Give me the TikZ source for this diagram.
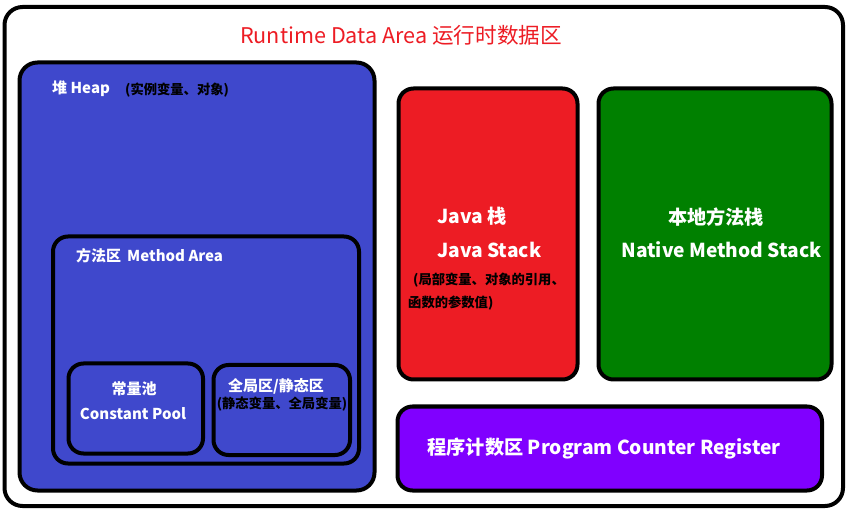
\documentclass[tikz,border=0pt]{standalone}
\usepackage{fontspec}
\setmainfont{Noto Sans CJK SC}
\definecolor{heapblue}{HTML}{3F48CC}
\definecolor{stackred}{HTML}{ED1C24}
\definecolor{nativegreen}{HTML}{008000}
\definecolor{pcpurple}{HTML}{8000FF}
\definecolor{titlered}{HTML}{ED1C24}
\tikzset{
  box/.style={draw=black, line width=4pt, rounded corners=15pt},
  wlabel/.style={text=white, font=\bfseries\fontsize{15}{18}\selectfont, inner sep=0pt},
  blabel/.style={text=black, font=\bfseries\fontsize{13.3}{16}\selectfont, inner sep=0pt},
  biglabel/.style={text=white, font=\bfseries\fontsize{19.2}{23}\selectfont, inner sep=0pt},
}
\begin{document}
\begin{tikzpicture}[x=1pt,y=-1pt]
\useasboundingbox (0,0) rectangle (862,518);
\fill[white] (0,0) rectangle (862,518);
% outer frame
\draw[box, rounded corners=18pt] (4.5,7) rectangle (843,506);
\node[text=titlered, font=\fontsize{21.6}{26}\selectfont, inner sep=0pt] (title) at (401,35) {Runtime Data Area 运行时数据区};
% heap
\draw[box, fill=heapblue, rounded corners=18pt] (19.5,62.5) rectangle (374.5,490.5);
\node[wlabel, anchor=west] (heap) at (52,89) {堆 Heap};
\node[blabel, anchor=west] (heapnote) at (125,90) {(实例变量、对象)};
% method area
\draw[box] (53,236.5) rectangle (359,463.5);
\node[wlabel, anchor=west] (method) at (76,256) {方法区\hspace{6pt}Method Area};
% constant pool
\draw[box] (68.5,363.5) rectangle (203,453.5);
\node[wlabel] (cp1) at (134,389) {常量池};
\node[wlabel] (cp2) at (133,414) {Constant Pool};
% global/static
\draw[box] (213.5,365) rectangle (350,455);
\node[wlabel] (gs1) at (276,386) {全局区/静态区};
\node[blabel] (gs2) at (282,404) {(静态变量、全局变量)};
% java stack
\draw[box, fill=stackred] (398.5,88.5) rectangle (577.5,379.5);
\node[biglabel, anchor=west] (js1) at (437,216) {Java 栈};
\node[biglabel, anchor=west] (js2) at (437,250) {Java Stack};
\node[blabel, anchor=west] (js3) at (413,280) {(局部变量、对象的引用、};
\node[blabel, anchor=west] (js4) at (408,303) {函数的参数值)};
% native method stack
\draw[box, fill=nativegreen] (598.5,88.5) rectangle (831.5,379.5);
\node[biglabel] (ns1) at (716,217) {本地方法栈};
\node[biglabel] (ns2) at (721.5,250) {Native Method Stack};
% program counter
\draw[box, fill=pcpurple] (397.5,406.5) rectangle (822,490.5);
\node[biglabel] (pc) at (604,448) {程序计数区 Program Counter Register};
\end{tikzpicture}
\end{document}
